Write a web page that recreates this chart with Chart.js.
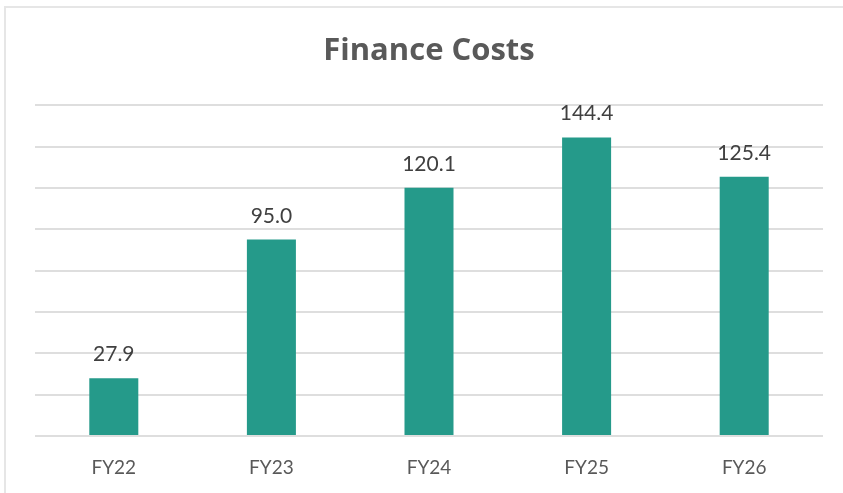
<!DOCTYPE html>
<html>
<head>
<meta charset="utf-8">
<script src="https://cdn.jsdelivr.net/npm/chart.js@4/dist/chart.umd.min.js"></script>
<style>
  html, body { margin: 0; padding: 0; background: #ffffff; overflow: hidden; }
  #frame { position: absolute; left: 4px; top: 6px; width: 900px; height: 600px; border: 2px solid #e6e6e6; box-sizing: border-box; }
  #wrap { position: absolute; left: 0; top: 0; width: 843px; height: 493px; }
</style>
</head>
<body>
<div id="frame"></div>
<div id="wrap"><canvas id="c" width="843" height="493"></canvas></div>
<script>
const categories = ["FY22", "FY23", "FY24", "FY25", "FY26"];
const financeCosts = [27.9, 95.0, 120.1, 144.4, 125.4];
const yTicks = { min: 0, max: 160, step: 20 };

const labelPlugin = {
  id: 'barLabels',
  afterDatasetsDraw(chart) {
    const ctx = chart.ctx;
    const meta = chart.getDatasetMeta(0);
    ctx.save();
    ctx.font = '21px Lato';
    ctx.fillStyle = '#404040';
    ctx.textAlign = 'center';
    ctx.textBaseline = 'alphabetic';
    meta.data.forEach((bar, i) => {
      ctx.fillText(financeCosts[i].toFixed(1), bar.x, bar.y - 17);
    });
    ctx.restore();
  }
};

new Chart(document.getElementById('c'), {
  type: 'bar',
  data: {
    labels: categories,
    datasets: [{
      data: financeCosts,
      backgroundColor: '#259a8a',
      borderWidth: 0,
      barPercentage: 0.311,
      categoryPercentage: 1.0
    }]
  },
  options: {
    responsive: false,
    animation: false,
    devicePixelRatio: 1,
    layout: { padding: { left: 35, right: 20, top: 0, bottom: 0 } },
    plugins: {
      legend: { display: false },
      tooltip: { enabled: false },
      title: {
        display: true,
        text: 'Finance Costs',
        color: '#595959',
        font: { family: 'Open Sans', size: 31, weight: 'bold' },
        padding: { top: 33, bottom: 35 }
      }
    },
    scales: {
      x: {
        grid: { display: false, drawTicks: false },
        border: { display: false },
        ticks: { color: '#595959', font: { family: 'Lato', size: 19 }, padding: 20 },
        afterFit(scale) { scale.height = 57; }
      },
      y: {
        min: yTicks.min,
        max: yTicks.max,
        grid: { color: '#dedede', lineWidth: 2, drawTicks: false },
        border: { display: false },
        ticks: { display: false, stepSize: yTicks.step }
      }
    }
  },
  plugins: [labelPlugin]
});
</script>
</body>
</html>
